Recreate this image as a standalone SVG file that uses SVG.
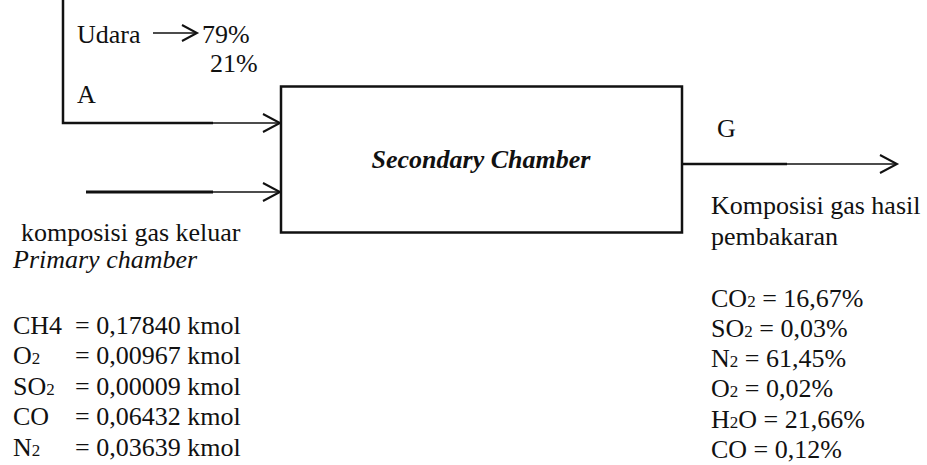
<svg xmlns="http://www.w3.org/2000/svg" width="927" height="465" viewBox="0 0 927 465">
<style>
text{font-family:"Liberation Serif","Times New Roman",serif;font-size:26px;fill:#111}
.sub{font-size:17px}
.it{font-style:italic}
.bi{font-style:italic;font-weight:bold}
.ln{stroke:#111;fill:none}
</style>
<defs>
<marker id="chev" markerUnits="userSpaceOnUse" markerWidth="20" markerHeight="22" refX="17" refY="9" orient="auto" overflow="visible">
<path d="M0,0 L17,9 L0,18" fill="none" stroke="#111" stroke-width="2"/>
</marker>
<marker id="chevS" markerUnits="userSpaceOnUse" markerWidth="18" markerHeight="18" refX="15" refY="8" orient="auto" overflow="visible">
<path d="M0,0 L15,8 L0,16" fill="none" stroke="#111" stroke-width="2"/>
</marker>
</defs>
<rect width="927" height="465" fill="#fff"/>
<g id="connectors">
<path class="ln" d="M63,0 V123 H213" stroke-width="2.5"/>
<line class="ln" x1="212" y1="123" x2="280" y2="123" stroke-width="1.6" marker-end="url(#chev)"/>
<line class="ln" x1="86" y1="192" x2="213" y2="192" stroke-width="3.2"/>
<line class="ln" x1="212" y1="192" x2="280" y2="192" stroke-width="1.6" marker-end="url(#chev)"/>
<line class="ln" x1="682" y1="164" x2="787" y2="164" stroke-width="2.5"/>
<line class="ln" x1="786" y1="164" x2="897" y2="164" stroke-width="1.6" marker-end="url(#chev)"/>
<line class="ln" x1="153" y1="33" x2="197" y2="33" stroke-width="1.6" marker-end="url(#chevS)"/>
</g>
<g id="secondary-chamber">
<rect x="281" y="86.5" width="401" height="146" fill="#fff" stroke="#111" stroke-width="2.5"/>
<text class="bi" x="481" y="168" text-anchor="middle">Secondary Chamber</text>
</g>
<g id="input-air">
<text x="77" y="43">Udara</text>
<text x="202" y="43">79%</text>
<text x="210" y="72">21%</text>
<text x="77" y="103">A</text>
</g>
<g id="input-primary">
<text x="21" y="241">komposisi gas keluar</text>
<text class="it" x="13" y="268">Primary chamber</text>
<text x="13" y="334">CH4</text><text x="75" y="334">= 0,17840 kmol</text>
<text x="13" y="364">O<tspan class="sub">2</tspan></text><text x="75" y="364">= 0,00967 kmol</text>
<text x="13" y="395">SO<tspan class="sub">2</tspan></text><text x="75" y="395">= 0,00009 kmol</text>
<text x="13" y="425">CO</text><text x="75" y="425">= 0,06432 kmol</text>
<text x="13" y="456">N<tspan class="sub">2</tspan></text><text x="75" y="456">= 0,03639 kmol</text>
</g>
<g id="output-gas">
<text x="717" y="137">G</text>
<text x="711" y="214">Komposisi gas hasil</text>
<text x="711" y="245">pembakaran</text>
<text x="711" y="307">CO<tspan class="sub">2</tspan> = 16,67%</text>
<text x="711" y="337">SO<tspan class="sub">2</tspan> = 0,03%</text>
<text x="711" y="367">N<tspan class="sub">2</tspan> = 61,45%</text>
<text x="711" y="397">O<tspan class="sub">2</tspan> = 0,02%</text>
<text x="711" y="428">H<tspan class="sub">2</tspan>O = 21,66%</text>
<text x="711" y="458">CO = 0,12%</text>
</g>
</svg>
